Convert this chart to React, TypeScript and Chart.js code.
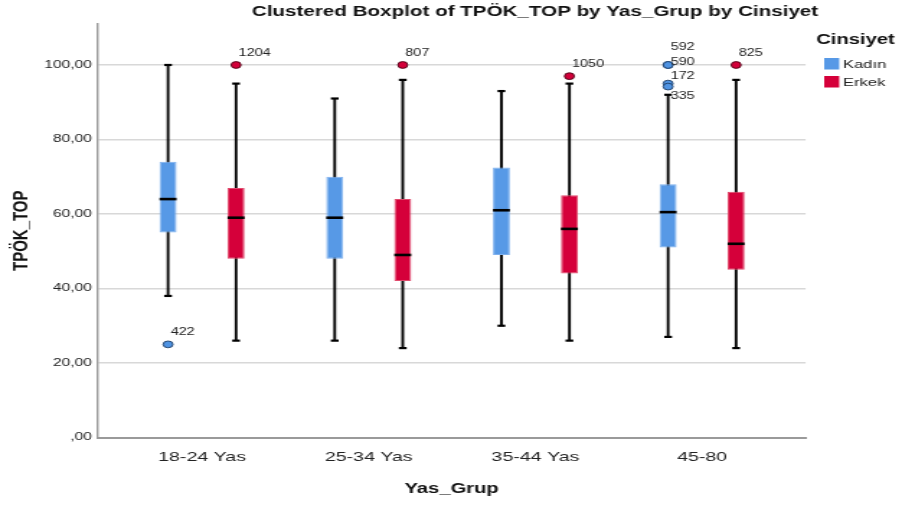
import React, { useEffect, useRef } from 'react';
import { Chart, registerables } from 'chart.js';

Chart.register(...registerables);

// ---------- data ----------
const categories = ['18-24 Yas', '25-34 Yas', '35-44 Yas', '45-80'];
const seriesNames = ['Kadın', 'Erkek'];

const kadinMin = [38, 26, 30, 27];
const kadinQ1 = [55, 48, 49, 51];
const kadinMedian = [64, 59, 61, 60.5];
const kadinQ3 = [74, 70, 72.5, 68];
const kadinMax = [100, 91, 93, 92];

const erkekMin = [26, 24, 26, 24];
const erkekQ1 = [48, 42, 44, 45];
const erkekMedian = [59, 49, 56, 52];
const erkekQ3 = [67, 64, 65, 66];
const erkekMax = [95, 96, 95, 96];

const kadinOutliers = [
  { group: 0, value: 25, id: '422' },
  { group: 3, value: 100, id: '592' },
  { group: 3, value: 100, id: '590' },
  { group: 3, value: 95, id: '172' },
  { group: 3, value: 94.2, id: '335' },
];
const erkekOutliers = [
  { group: 0, value: 100, id: '1204' },
  { group: 1, value: 100, id: '807' },
  { group: 2, value: 97, id: '1050' },
  { group: 3, value: 100, id: '825' },
];

const yTickValues = [0, 20, 40, 60, 80, 100];

// ---------- styling ----------
const FONT = '"Liberation Sans", Arial, Helvetica, sans-serif';
const LOGICAL_W = 626;
const DISPLAY_W = 902;
const H = 507;
const BLUE = '#5799e6';
const BLUE_EDGE = '#7db0ee';
const RED = '#d5003a';
const RED_EDGE = '#e04a6c';

const fmtY = (v: number) => (v === 0 ? ',00' : v.toFixed(2).replace('.', ','));

const boxExtras = {
  id: 'boxExtras',
  afterDatasetsDraw(chart: any) {
    const ctx = chart.ctx;
    const ys = chart.scales.y;
    const series = [
      { meta: chart.getDatasetMeta(0), median: kadinMedian, min: kadinMin, max: kadinMax, outliers: kadinOutliers, fill: '#4f93e2', stroke: '#1d3d66' },
      { meta: chart.getDatasetMeta(1), median: erkekMedian, min: erkekMin, max: erkekMax, outliers: erkekOutliers, fill: '#d3003a', stroke: '#4a0014' },
    ];
    ctx.save();
    series.forEach((s) => {
      s.meta.data.forEach((el: any, i: number) => {
        const { x, width } = el.getProps(['x', 'width'], true);
        // median
        ctx.strokeStyle = '#000';
        ctx.lineWidth = 2.6;
        ctx.beginPath();
        const my = ys.getPixelForValue(s.median[i]);
        ctx.moveTo(x - width / 2, my);
        ctx.lineTo(x + width / 2, my);
        ctx.stroke();
        // caps
        ctx.lineWidth = 2.2;
        [s.min[i], s.max[i]].forEach((v) => {
          const cy = ys.getPixelForValue(v);
          ctx.beginPath();
          ctx.moveTo(x - 2.7, cy);
          ctx.lineTo(x + 2.7, cy);
          ctx.stroke();
        });
        // outliers
        const outs = s.outliers
          .filter((o) => o.group === i)
          .map((o) => ({ ...o, py: ys.getPixelForValue(o.value) }))
          .sort((a, b) => a.py - b.py);
        outs.forEach((o) => {
          ctx.beginPath();
          ctx.arc(x, o.py, 3.4, 0, Math.PI * 2);
          ctx.fillStyle = s.fill;
          ctx.fill();
          ctx.lineWidth = 0.9;
          ctx.strokeStyle = s.stroke;
          ctx.stroke();
        });
        // labels: stacked without overlap, cluster lifted when crowded
        const ys0 = outs.map((o) => o.py - 12);
        const placed: number[] = [];
        ys0.forEach((d, k) => {
          placed.push(k === 0 ? d : Math.max(d, placed[k - 1] + 14.5));
        });
        const pushed = placed.length > 1 && placed.some((p, k) => p !== ys0[k]);
        const lift = pushed ? 5.5 : 0;
        outs.forEach((o, k) => {
          ctx.font = `10px ${FONT}`;
          ctx.fillStyle = '#222';
          ctx.textAlign = 'left';
          ctx.textBaseline = 'middle';
          ctx.fillText(o.id, x + 1.8, placed[k] - (k === outs.length - 1 ? 0 : lift));
        });
      });
    });
    ctx.restore();
  },
  afterDraw(chart: any) {
    const ctx = chart.ctx;
    ctx.save();
    // title
    ctx.font = `bold 14.3px ${FONT}`;
    ctx.fillStyle = '#111';
    ctx.textAlign = 'center';
    ctx.textBaseline = 'middle';
    ctx.fillText('Clustered Boxplot of TPÖK_TOP by Yas_Grup by Cinsiyet', 371.3, 12);
    // legend
    ctx.font = `bold 14px ${FONT}`;
    ctx.textAlign = 'left';
    ctx.fillText('Cinsiyet', 566.5, 40.5);
    const colors = [BLUE, RED];
    const rows = [58, 76];
    seriesNames.forEach((name, i) => {
      ctx.fillStyle = colors[i];
      ctx.fillRect(572, rows[i], 10.4, 11.5);
      ctx.fillStyle = '#222';
      ctx.font = `11.5px ${FONT}`;
      ctx.fillText(name, 585, rows[i] + 6.5);
    });
    ctx.restore();
  },
};

export default function App() {
  const ref = useRef<HTMLCanvasElement | null>(null);

  useEffect(() => {
    if (!ref.current) return;
    const mkBox = (label: string, q1: number[], q3: number[], color: string, edge: string, stack: string) => ({
      label,
      data: q1.map((v, i) => ({ x: i, y: [v, q3[i]] })),
      backgroundColor: color,
      borderColor: edge,
      borderWidth: 1,
      borderSkipped: false,
      stack,
      barPercentage: 0.25,
      categoryPercentage: 0.816,
    });
    const mkWhisker = (label: string, mn: number[], mx: number[], stack: string) => ({
      label,
      data: mn.map((v, i) => ({ x: i, y: [v, mx[i]] })),
      backgroundColor: '#000',
      borderWidth: 0,
      stack,
      barPercentage: 0.04,
      categoryPercentage: 0.816,
    });

    const chart = new Chart(ref.current, {
      type: 'bar',
      data: {
        datasets: [
          mkBox(seriesNames[0], kadinQ1, kadinQ3, BLUE, BLUE_EDGE, 'k'),
          mkBox(seriesNames[1], erkekQ1, erkekQ3, RED, RED_EDGE, 'e'),
          mkWhisker(seriesNames[0] + ' whisker', kadinMin, kadinMax, 'k'),
          mkWhisker(seriesNames[1] + ' whisker', erkekMin, erkekMax, 'e'),
        ] as any,
      },
      options: {
        responsive: false,
        animation: false,
        events: [],
        devicePixelRatio: 1,
        layout: { padding: { top: 24, right: LOGICAL_W - 559.1, left: 0, bottom: 0 } },
        plugins: {
          legend: { display: false },
          title: { display: false },
          tooltip: { enabled: false },
        },
        scales: {
          x: {
            type: 'linear',
            min: -0.626,
            max: 3.621,
            offset: false,
            afterBuildTicks: (s: any) => {
              s.ticks = categories.map((_, i) => ({ value: i }));
            },
            afterFit: (s: any) => {
              s.height = H - 437.5;
            },
            grid: { display: false, drawTicks: false, offset: false },
            border: { display: true, color: '#9a9a9a', width: 2 },
            ticks: {
              callback: (v: any) => categories[v] ?? '',
              font: { family: FONT, size: 13.6 },
              color: '#222',
              padding: 11.5,
              maxRotation: 0,
              autoSkip: false,
            },
            title: {
              display: true,
              text: 'Yas_Grup',
              font: { family: FONT, size: 14, weight: 'bold' },
              color: '#111',
              padding: { top: 0, bottom: 9.6 },
            },
          },
          y: {
            type: 'linear',
            min: 0,
            max: 111,
            stacked: false,
            afterBuildTicks: (s: any) => {
              s.ticks = yTickValues.map((v) => ({ value: v }));
            },
            afterFit: (s: any) => {
              s.width = 67.8;
            },
            grid: { color: '#d8d8d8', lineWidth: 1.5, drawTicks: false },
            border: { display: true, color: '#9a9a9a', width: 1.4 },
            ticks: {
              callback: (v: any) => fmtY(Number(v)),
              font: { family: FONT, size: 10.8 },
              color: '#222',
              padding: 4,
            },
            title: {
              display: true,
              text: 'TPÖK_TOP',
              font: { family: FONT, size: 15, weight: 'bold' },
              color: '#111',
              padding: { top: 6.3, bottom: 0 },
            },
          },
        },
      } as any,
      plugins: [boxExtras],
    });
    return () => chart.destroy();
  }, []);

  return (
    <div style={{ position: 'fixed', left: 0, top: 0, width: DISPLAY_W, height: H, background: '#fff' }}>
      <canvas
        ref={ref}
        width={LOGICAL_W}
        height={H}
        style={{ display: 'block', width: `${DISPLAY_W}px`, height: `${H}px` }}
      />
    </div>
  );
}
